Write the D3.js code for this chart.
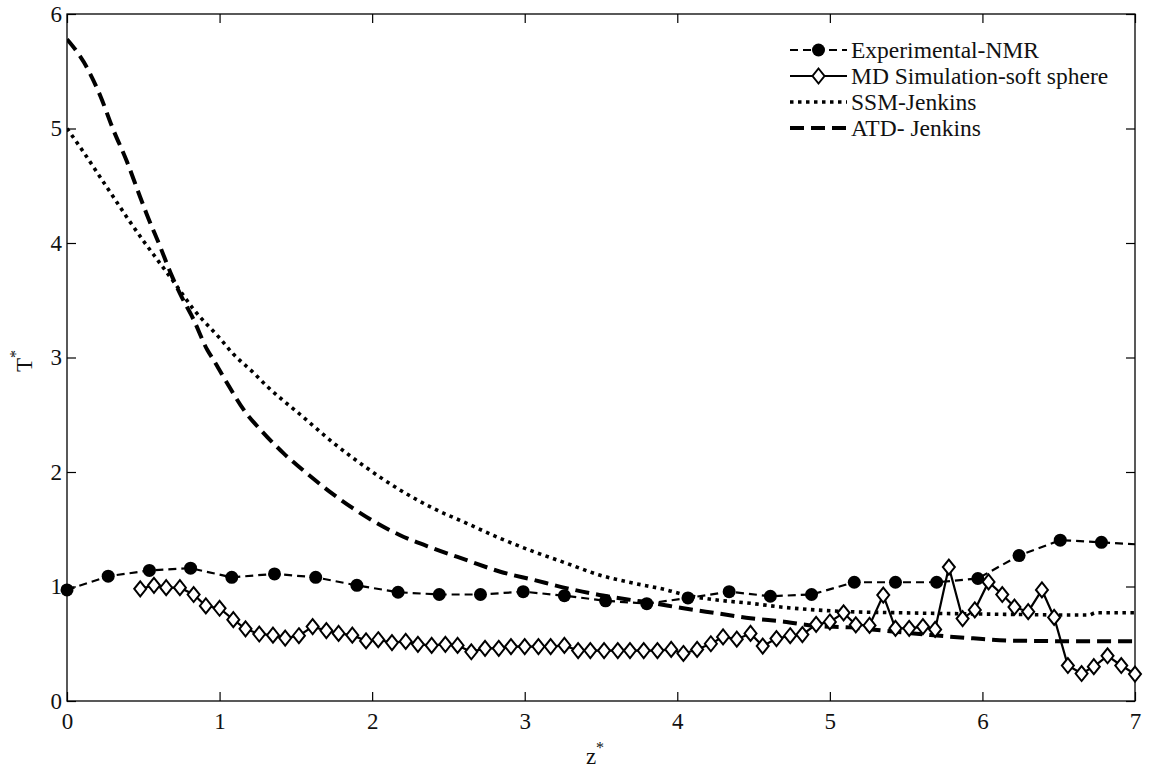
<!DOCTYPE html>
<html>
<head>
<meta charset="utf-8">
<script src="https://cdn.jsdelivr.net/npm/d3@7/dist/d3.min.js"></script>
<style>
  html, body { margin: 0; padding: 0; background: #fff; }
  svg { display: block; }
  text { font-family: "Liberation Serif", "Times New Roman", serif; fill: #111; }
</style>
</head>
<body>
<svg id="chart" width="1150" height="769"></svg>
<script>
// Experimental NMR measurements (filled circles, dashed line)
const nmrZ = [0, 0.27, 0.54, 0.81, 1.08, 1.36, 1.63, 1.9, 2.17, 2.44, 2.71, 2.99, 3.26, 3.53,
              3.8, 4.07, 4.34, 4.61, 4.88, 5.16, 5.43, 5.7, 5.97, 6.24, 6.51, 6.78, 7.05];
const nmrT = [0.97, 1.09, 1.14, 1.16, 1.08, 1.11, 1.08, 1.01, 0.95, 0.93, 0.93, 0.955, 0.92, 0.875,
              0.85, 0.9, 0.955, 0.915, 0.93, 1.037, 1.037, 1.037, 1.07, 1.27, 1.405, 1.386, 1.365];

// MD soft-sphere simulation (open diamonds, solid line)
const mdZ = [0.48, 0.57, 0.65, 0.74, 0.83, 0.91, 1.0, 1.09, 1.17, 1.26, 1.35, 1.43, 1.52, 1.61, 1.7,
             1.78, 1.87, 1.96, 2.04, 2.13, 2.22, 2.3, 2.39, 2.48, 2.56, 2.65, 2.74, 2.83, 2.91, 3.0,
             3.09, 3.17, 3.26, 3.35, 3.43, 3.52, 3.61, 3.69, 3.78, 3.87, 3.96, 4.04, 4.13, 4.22, 4.3,
             4.39, 4.48, 4.56, 4.65, 4.74, 4.82, 4.91, 5.0, 5.09, 5.17, 5.26, 5.35, 5.43, 5.52, 5.61,
             5.69, 5.78, 5.87, 5.95, 6.04, 6.13, 6.21, 6.3, 6.39, 6.47, 6.56, 6.65, 6.73, 6.82, 6.91, 7.0];
const mdT = [0.98, 1.01, 0.99, 0.99, 0.93, 0.83, 0.81, 0.71, 0.63, 0.585, 0.575, 0.55, 0.57, 0.65, 0.615,
             0.59, 0.575, 0.525, 0.535, 0.51, 0.52, 0.495, 0.485, 0.495, 0.485, 0.43, 0.46, 0.46, 0.475, 0.475,
             0.475, 0.475, 0.485, 0.44, 0.44, 0.44, 0.44, 0.44, 0.44, 0.44, 0.45, 0.415, 0.45, 0.5, 0.56,
             0.54, 0.59, 0.48, 0.545, 0.57, 0.58, 0.67, 0.69, 0.77, 0.665, 0.66, 0.925, 0.635, 0.635, 0.65,
             0.625, 1.17, 0.72, 0.795, 1.04, 0.93, 0.82, 0.78, 0.97, 0.73, 0.31, 0.24, 0.3, 0.395, 0.31, 0.235];

// SSM-Jenkins model curve (dotted)
const ssmZ = [0, 0.1, 0.2, 0.3, 0.4, 0.5, 0.6, 0.7, 0.83, 1.0, 1.09, 1.22, 1.31, 1.53, 1.75,
              1.96, 2.18, 2.4, 2.62, 2.84, 3.06, 3.28, 3.49, 3.71, 3.93, 4.04, 4.26, 4.48, 4.7, 4.91, 5.13,
              5.44, 5.98, 6.64, 6.7, 6.74, 7.0];
const ssmT = [5.0, 4.81, 4.61, 4.41, 4.21, 4.02, 3.84, 3.66, 3.42, 3.17, 3.03, 2.87, 2.75, 2.5, 2.25,
              2.04, 1.845, 1.683, 1.552, 1.42, 1.304, 1.2, 1.1, 1.03, 0.97, 0.93, 0.882, 0.853, 0.818, 0.795, 0.78,
              0.771, 0.76, 0.751, 0.751, 0.771, 0.771];

// ATD-Jenkins model curve (long dashes)
const atdZ = [0, 0.11, 0.22, 0.3, 0.39, 0.48, 0.52, 0.61, 0.68, 0.74, 0.83, 0.92, 0.96, 1.05, 1.16, 1.29,
              1.42, 1.57, 1.75, 2.18, 2.4, 2.62, 2.84, 3.06, 3.28, 3.49, 3.71, 3.82, 4.04, 4.26, 4.48, 4.7,
              4.91, 5.13, 5.35, 5.66, 5.94, 6.2, 6.64, 7.0];
const atdT = [5.78, 5.58, 5.28, 5.0, 4.72, 4.4, 4.26, 3.97, 3.735, 3.56, 3.33, 3.065, 2.98, 2.775, 2.54, 2.338,
              2.163, 1.99, 1.8, 1.45, 1.333, 1.23, 1.129, 1.057, 0.984, 0.926, 0.88, 0.859, 0.81, 0.766, 0.722, 0.693,
              0.655, 0.643, 0.615, 0.576, 0.547, 0.527, 0.522, 0.522];

const xTicks = [0, 1, 2, 3, 4, 5, 6, 7];
const yTicks = [0, 1, 2, 3, 4, 5, 6];
const legendLabels = ["Experimental-NMR", "MD Simulation-soft sphere", "SSM-Jenkins", "ATD- Jenkins"];

const svg = d3.select("#chart");
const W = 1150, H = 769;
const m = { left: 67, right: 15, top: 14, bottom: 68 };
const x = d3.scaleLinear().domain([0, 7]).range([m.left, W - m.right]);
const y = d3.scaleLinear().domain([0, 6]).range([H - m.bottom, m.top]);

const pairs = (zs, ts) => zs.map((z, i) => [z, ts[i]]);
const nmr = pairs(nmrZ, nmrT), md = pairs(mdZ, mdT), ssm = pairs(ssmZ, ssmT), atd = pairs(atdZ, atdT);

svg.append("defs").append("clipPath").attr("id", "plotClip")
  .append("rect").attr("x", m.left).attr("y", m.top)
  .attr("width", W - m.left - m.right).attr("height", H - m.top - m.bottom);

const FS = 23;

// axes: inward ticks on all four sides
const axB = svg.append("g").attr("transform", `translate(0,${H - m.bottom})`)
  .call(d3.axisBottom(x).tickValues(xTicks).tickSizeInner(-9).tickSizeOuter(0).tickPadding(12).tickFormat(d3.format("d")));
const axL = svg.append("g").attr("transform", `translate(${m.left},0)`)
  .call(d3.axisLeft(y).tickValues(yTicks).tickSizeInner(-9).tickSizeOuter(0).tickPadding(5).tickFormat(d3.format("d")));
const axT = svg.append("g").attr("transform", `translate(0,${m.top})`)
  .call(d3.axisTop(x).tickValues(xTicks).tickSizeInner(-9).tickSizeOuter(0).tickFormat(""));
const axR = svg.append("g").attr("transform", `translate(${W - m.right},0)`)
  .call(d3.axisRight(y).tickValues(yTicks).tickSizeInner(-9).tickSizeOuter(0).tickFormat(""));
[axB, axL, axT, axR].forEach(a => {
  a.select(".domain").remove();
  a.selectAll("line").attr("stroke", "#000").attr("stroke-width", 1.2);
  a.selectAll("text").attr("font-size", FS).attr("fill", "#111");
});

svg.append("rect").attr("x", m.left).attr("y", m.top)
  .attr("width", W - m.left - m.right).attr("height", H - m.top - m.bottom)
  .attr("fill", "none").attr("stroke", "#000").attr("stroke-width", 1.3);

const plot = svg.append("g").attr("clip-path", "url(#plotClip)");
const smooth = d3.line().x(d => x(d[0])).y(d => y(d[1])).curve(d3.curveMonotoneX);
const straight = d3.line().x(d => x(d[0])).y(d => y(d[1]));

const styles = {
  nmr: { width: 2.2, dash: "8,5" },
  md: { width: 2.2, dash: null },
  ssm: { width: 3.6, dash: "3.5,4.5" },
  atd: { width: 4, dash: "14,7" }
};

plot.append("path").datum(ssm).attr("d", smooth).attr("fill", "none").attr("stroke", "#000")
  .attr("stroke-width", styles.ssm.width).attr("stroke-dasharray", styles.ssm.dash);
plot.append("path").datum(atd).attr("d", smooth).attr("fill", "none").attr("stroke", "#000")
  .attr("stroke-width", styles.atd.width).attr("stroke-dasharray", styles.atd.dash);
plot.append("path").datum(nmr).attr("d", straight).attr("fill", "none").attr("stroke", "#000")
  .attr("stroke-width", styles.nmr.width).attr("stroke-dasharray", styles.nmr.dash);
plot.append("path").datum(md).attr("d", straight).attr("fill", "none").attr("stroke", "#000")
  .attr("stroke-width", styles.md.width);

const diamond = (cx, cy, hw, hh) => `M${cx},${cy - hh}L${cx + hw},${cy}L${cx},${cy + hh}L${cx - hw},${cy}Z`;
const inDomain = d => d[0] >= 0 && d[0] <= 7;

svg.append("g").selectAll("path").data(md.filter(inDomain)).join("path")
  .attr("d", d => diamond(x(d[0]), y(d[1]), 6, 7.5))
  .attr("fill", "#fff").attr("stroke", "#000").attr("stroke-width", 2);

svg.append("g").selectAll("circle").data(nmr.filter(inDomain)).join("circle")
  .attr("cx", d => x(d[0])).attr("cy", d => y(d[1])).attr("r", 6.5).attr("fill", "#000");

// legend (no frame)
const lg = svg.append("g");
const lx0 = 790, lx1 = 847, ltx = 851, ly0 = 50, lstep = 26;
const keys = ["nmr", "md", "ssm", "atd"];
keys.forEach((k, i) => {
  const cy = ly0 + i * lstep;
  lg.append("line").attr("x1", lx0).attr("x2", lx1).attr("y1", cy).attr("y2", cy)
    .attr("stroke", "#000").attr("stroke-width", styles[k].width)
    .attr("stroke-dasharray", styles[k].dash);
  if (k === "nmr") lg.append("circle").attr("cx", (lx0 + lx1) / 2).attr("cy", cy).attr("r", 6.5).attr("fill", "#000");
  if (k === "md") lg.append("path").attr("d", diamond((lx0 + lx1) / 2, cy, 6, 7.5))
    .attr("fill", "#fff").attr("stroke", "#000").attr("stroke-width", 2);
  lg.append("text").attr("x", ltx).attr("y", cy).attr("dy", "0.35em")
    .attr("font-size", 23.5).text(legendLabels[i]);
});

// axis titles
const xt = svg.append("text").attr("x", 595).attr("y", 764).attr("text-anchor", "middle").attr("font-size", FS);
xt.append("tspan").text("z");
xt.append("tspan").attr("dy", -11).attr("font-size", 16).text("*");

const yt = svg.append("text").attr("transform", "translate(32,361) rotate(-90)")
  .attr("text-anchor", "middle").attr("font-size", FS);
yt.append("tspan").text("T");
yt.append("tspan").attr("dy", -11).attr("font-size", 16).text("*");
</script>
</body>
</html>
